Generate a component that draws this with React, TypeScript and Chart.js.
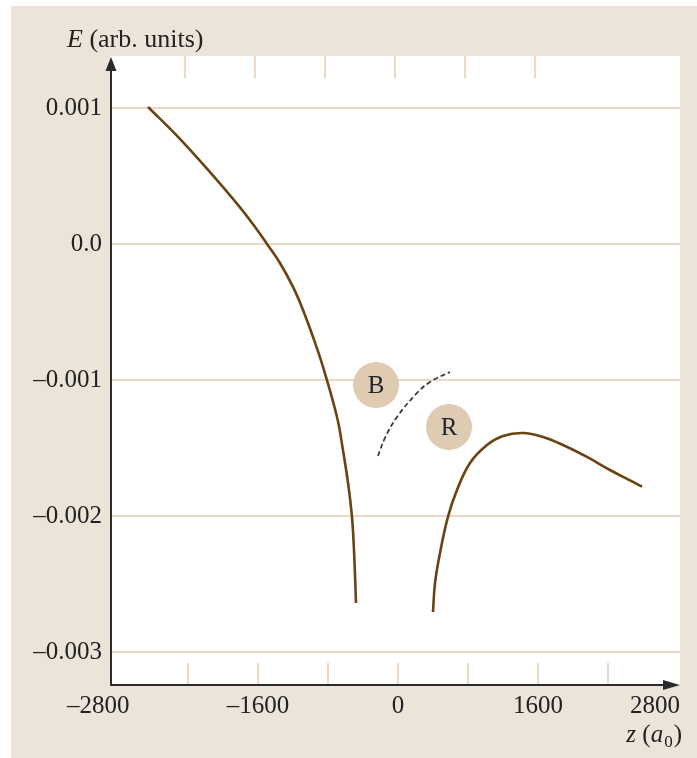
import React, { useEffect, useRef } from "react";
import { Chart, registerables } from "chart.js";
Chart.register(...registerables);

const leftZ = [-2857, -2514, -2171, -1829, -1634, -1497, -1349, -1200, -1086, -971, -857, -697, -629, -571, -526, -503, -488, -480];
const leftE = [0.001007, 0.000787, 0.000544, 0.000287, 0.000125, 0, -0.00014, -0.000316, -0.000485, -0.000684, -0.000904, -0.001272, -0.001515, -0.001757, -0.002007, -0.00225, -0.002493, -0.00264];
const rightZ = [400, 423, 480, 571, 674, 823, 1017, 1200, 1429, 1657, 1886, 2160, 2423, 2686, 2789];
const rightE = [-0.002706, -0.002493, -0.002272, -0.002007, -0.001809, -0.00161, -0.001478, -0.001412, -0.00139, -0.001419, -0.001478, -0.001566, -0.001662, -0.00175, -0.001785];
const dashZ = [-229, -149, -11, 217, 366, 594];
const dashE = [-0.001559, -0.001426, -0.001272, -0.001096, -0.001015, -0.000941];
const markerLabels = ["B", "R"];
const markerZ = [-251, 583];
const markerE = [-0.001037, -0.001346];
const yTicks = [0.001, 0, -0.001, -0.002, -0.003];
const yTickLabels = ["0.001", "0.0", "–0.001", "–0.002", "–0.003"];
const xTickMarksBottom = [-2400, -1600, -800, 0, 800, 1600, 2400];
const xTickMarksTop = [-2400, -1600, -800, 0, 800, 1600];
const xLabelValues = [-1600, 0, 1600];
const xLabels = ["–1600", "0", "1600"];
const xEndLabels = ["–2800", "2800"];

const SERIF = '"Liberation Serif", "Times New Roman", serif';
const BEIGE = "#ede4d9";
const GRID = "#ebd9c5";
const CURVE = "#6b4212";
const AXIS = "#2b2b2b";

const toPts = (xs: number[], ys: number[]) => xs.map((x, i) => ({ x, y: ys[i] }));

const decor = {
  id: "decor",
  beforeDraw(chart: any) {
    const { ctx, width, height, chartArea: a } = chart;
    ctx.save();
    ctx.fillStyle = "#ffffff";
    ctx.fillRect(0, 0, width, height);
    ctx.fillStyle = BEIGE;
    ctx.fillRect(11, 6, width - 11, height - 6);
    ctx.fillStyle = "#ffffff";
    ctx.fillRect(a.left, a.top, a.right - a.left, a.bottom - a.top);
    ctx.restore();
  },
  afterDatasetsDraw(chart: any) {
    const { ctx } = chart;
    const meta = chart.getDatasetMeta(3);
    ctx.save();
    ctx.font = `25px ${SERIF}`;
    ctx.fillStyle = "#1e2430";
    ctx.textAlign = "center";
    ctx.textBaseline = "middle";
    meta.data.forEach((el: any, i: number) => {
      ctx.fillText(markerLabels[i], el.x, el.y + 1);
    });
    ctx.restore();
  },
  afterDraw(chart: any) {
    const { ctx, chartArea: a, scales } = chart;
    const xs = scales.x;
    ctx.save();
    ctx.strokeStyle = GRID;
    ctx.lineWidth = 2;
    xTickMarksBottom.forEach((v) => {
      const px = Math.round(xs.getPixelForValue(v));
      ctx.beginPath();
      ctx.moveTo(px, a.bottom - 22);
      ctx.lineTo(px, a.bottom);
      ctx.stroke();
    });
    xTickMarksTop.forEach((v) => {
      const px = Math.round(xs.getPixelForValue(v)) - 3;
      ctx.beginPath();
      ctx.moveTo(px, a.top);
      ctx.lineTo(px, a.top + 22);
      ctx.stroke();
    });
    ctx.strokeStyle = AXIS;
    ctx.fillStyle = AXIS;
    ctx.lineWidth = 2;
    ctx.beginPath();
    ctx.moveTo(a.left, a.bottom + 1);
    ctx.lineTo(a.left, a.top + 12);
    ctx.moveTo(a.left - 1, a.bottom);
    ctx.lineTo(a.right - 14, a.bottom);
    ctx.stroke();
    ctx.beginPath();
    ctx.moveTo(a.left, a.top + 1);
    ctx.lineTo(a.left - 5.5, a.top + 15);
    ctx.lineTo(a.left + 5.5, a.top + 15);
    ctx.closePath();
    ctx.fill();
    ctx.beginPath();
    ctx.moveTo(a.right, a.bottom);
    ctx.lineTo(a.right - 17, a.bottom - 5);
    ctx.lineTo(a.right - 17, a.bottom + 5);
    ctx.closePath();
    ctx.fill();
    ctx.fillStyle = "#222";
    ctx.font = `25px ${SERIF}`;
    ctx.textBaseline = "alphabetic";
    ctx.textAlign = "center";
    xLabelValues.forEach((v, i) => {
      ctx.fillText(xLabels[i], xs.getPixelForValue(v), 713);
    });
    ctx.textAlign = "left";
    ctx.fillText(xEndLabels[0], a.left - 44, 713);
    ctx.textAlign = "right";
    ctx.fillText(xEndLabels[1], a.right, 713);
    ctx.textAlign = "left";
    ctx.font = `italic 26px ${SERIF}`;
    ctx.fillText("E", 67, 47);
    const wE = ctx.measureText("E").width;
    ctx.font = `26px ${SERIF}`;
    ctx.fillText(" (arb. units)", 67 + wE, 47);
    const parts = [
      { t: "z", f: `italic 25px ${SERIF}`, dy: 0 },
      { t: " (", f: `25px ${SERIF}`, dy: 0 },
      { t: "a", f: `italic 25px ${SERIF}`, dy: 0 },
      { t: "0", f: `17px ${SERIF}`, dy: 5 },
      { t: ")", f: `25px ${SERIF}`, dy: 0 },
    ];
    let total = 0;
    const widths = parts.map((p) => {
      ctx.font = p.f;
      const w = ctx.measureText(p.t).width + (p.t === "0" ? 2 : 0);
      total += w;
      return w;
    });
    let x0 = a.right + 2 - total;
    parts.forEach((p, i) => {
      ctx.font = p.f;
      ctx.fillText(p.t, x0 + (p.t === "0" ? 1 : 0), 742 + p.dy);
      x0 += widths[i];
    });
    ctx.restore();
  },
};

export default function App() {
  const ref = useRef<HTMLCanvasElement | null>(null);
  useEffect(() => {
    document.body.style.margin = "0";
    const canvas = ref.current;
    if (!canvas) return;
    const chart = new Chart(canvas, {
      type: "scatter",
      data: {
        datasets: [
          {
            data: toPts(leftZ, leftE),
            showLine: true,
            borderColor: CURVE,
            borderWidth: 2.6,
            pointRadius: 0,
            tension: 0.4,
          },
          {
            data: toPts(rightZ, rightE),
            showLine: true,
            borderColor: CURVE,
            borderWidth: 2.6,
            pointRadius: 0,
            tension: 0.4,
          },
          {
            data: toPts(dashZ, dashE),
            showLine: true,
            borderColor: "#333",
            borderWidth: 1.7,
            borderDash: [5, 3],
            pointRadius: 0,
            tension: 0.4,
          },
          {
            data: toPts(markerZ, markerE),
            showLine: false,
            pointRadius: 23,
            pointBackgroundColor: "#dfcab2",
            pointBorderWidth: 0,
            pointBorderColor: "rgba(0,0,0,0)",
          },
        ],
      } as any,
      options: {
        animation: false,
        responsive: false,
        devicePixelRatio: 1,
        layout: { autoPadding: false, padding: { left: 0, top: 56, right: 17, bottom: 0 } },
        plugins: { legend: { display: false }, tooltip: { enabled: false } },
        scales: {
          x: {
            type: "linear",
            min: -3280,
            max: 3223,
            ticks: { display: false },
            grid: { display: false },
            border: { display: false },
            afterFit: (s: any) => {
              s.height = 73;
            },
          },
          y: {
            type: "linear",
            min: -0.003243,
            max: 0.001382,
            afterBuildTicks: (s: any) => {
              s.ticks = yTicks.map((v) => ({ value: v }));
            },
            ticks: {
              padding: 9,
              color: "#222",
              font: { family: SERIF, size: 25 },
              callback: (_v: any, i: number) => yTickLabels[i],
            },
            grid: { color: GRID, lineWidth: 2, drawTicks: false },
            border: { display: false },
            afterFit: (s: any) => {
              s.width = 111;
            },
          },
        },
      } as any,
      plugins: [decor],
    });
    return () => chart.destroy();
  }, []);
  return (
    <div style={{ width: 697, height: 758 }}>
      <canvas ref={ref} width={697} height={758} style={{ display: "block", width: 697, height: 758 }} />
    </div>
  );
}
